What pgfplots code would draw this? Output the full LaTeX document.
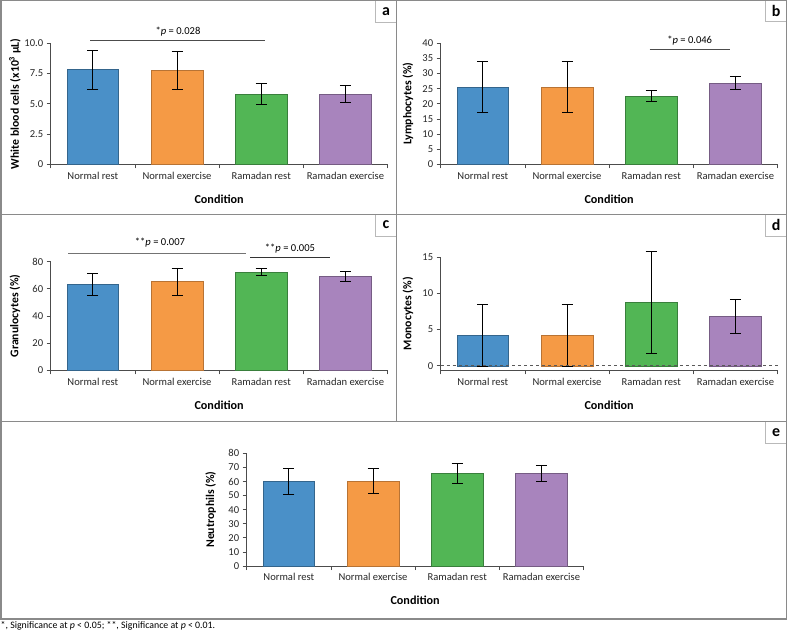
\documentclass[border=0pt]{standalone}
\usepackage{pgfplots}
\pgfplotsset{compat=1.18}
\usepackage{fontspec}
\setmainfont{Carlito}
\definecolor{cblue}{HTML}{4A90C8}
\definecolor{corange}{HTML}{F59A45}
\definecolor{cgreen}{HTML}{52B655}
\definecolor{cpurple}{HTML}{A884BD}
\definecolor{framec}{HTML}{8A8A8A}

\pgfplotsset{
  panel/.style={
    scale only axis, anchor=south west,
    width=336.8bp,
    xmin=-0.5, xmax=3.5,
    ybar, bar width=51.7bp, bar shift=0pt,
    axis x line*=bottom, axis y line*=left,
    axis line style={black!70, line width=0.8bp, -},
    tick align=outside, major tick length=4bp,
    tick style={black!70, line width=0.8bp},
    xtick={-0.5,0.5,1.5,2.5,3.5},
    x tick label as interval,
    xticklabels={Normal rest, Normal exercise, Ramadan rest, Ramadan exercise},
    tick label style={font=\fontsize{10.6}{12}\selectfont, black!85},
    /pgf/number format/assume math mode=true,
    xlabel={Condition},
    xlabel style={font=\fontsize{12.2}{14}\selectfont\bfseries, at={(axis description cs:0.5,0)}, anchor=center, yshift=-34.7bp},
    ylabel style={font=\fontsize{11.8}{13}\selectfont\bfseries, anchor=center},
    error bars/y dir=both, error bars/y explicit,
    error bars/error bar style={black, line width=0.8bp},
    error bars/error mark options={black, line width=0.8bp, mark size=5.5bp, rotate=90},
    clip=false,
  },
  ylabpos/.style={ylabel style={at={(axis description cs:#1,0.5)}}},
  bblue/.style={fill=cblue, draw=cblue!70!black},
  borange/.style={fill=corange, draw=corange!75!black},
  bgreen/.style={fill=cgreen, draw=cgreen!70!black},
  bpurple/.style={fill=cpurple, draw=cpurple!70!black},
}

\begin{document}
\begin{tikzpicture}
\path[use as bounding box] (0,0) rectangle (788bp,-636bp);

% label boxes and frame
\begin{scope}[x=1bp,y=-1bp]
\draw[gray!55, line width=0.7bp, fill=white] (375.3,0.6) rectangle (396.7,22.7);
\draw[gray!55, line width=0.7bp, fill=white] (765.5,0.6) rectangle (786.7,21.7);
\draw[gray!55, line width=0.7bp, fill=white] (375.3,214.3) rectangle (396.7,236);
\draw[gray!55, line width=0.7bp, fill=white] (765.5,214.3) rectangle (786.7,236);
\draw[gray!55, line width=0.7bp, fill=white] (765.5,421.3) rectangle (786.7,443.3);
\node[font=\fontsize{16}{18}\selectfont\bfseries] at (386,11.6) {a};
\node[font=\fontsize{16}{18}\selectfont\bfseries] at (776.1,11.1) {b};
\node[font=\fontsize{16}{18}\selectfont\bfseries] at (386,225.1) {c};
\node[font=\fontsize{16}{18}\selectfont\bfseries] at (776.1,225.1) {d};
\node[font=\fontsize{16}{18}\selectfont\bfseries] at (776.1,432.3) {e};
\draw[framec, line width=1.2bp] (1,0.6) rectangle (786.7,619);
\draw[framec, line width=1.2bp] (396.7,0.6) -- (396.7,421.3);
\draw[framec, line width=1.2bp] (1,214.3) -- (786.7,214.3);
\draw[framec, line width=1.2bp] (1,421.3) -- (786.7,421.3);
% significance annotations
\draw[black!70, line width=0.9bp] (90,40) -- (265,40);
\node[font=\fontsize{10.6}{12}\selectfont] at (178,31.7) {*\textit{p} = 0.028};
\draw[black!70, line width=0.9bp] (649.7,49.3) -- (730.3,49.3);
\node[font=\fontsize{10.6}{12}\selectfont] at (689.7,40.7) {*\textit{p} = 0.046};
\draw[black!55, line width=0.9bp] (68.3,253.3) -- (246,253.3);
\node[font=\fontsize{10.6}{12}\selectfont] at (160,242.3) {**\textit{p} = 0.007};
\draw[black!80, line width=0.9bp] (250,257.3) -- (330,257.3);
\node[font=\fontsize{10.6}{12}\selectfont] at (290,249) {**\textit{p} = 0.005};
\node[font=\fontsize{9.9}{11}\selectfont, anchor=base west, inner sep=0pt] at (0.5,628) {*, Significance at \textit{p} < 0.05; **, Significance at \textit{p} < 0.01.};
\end{scope}

% panel a
\begin{axis}[panel, at={(50.7bp,-164.3bp)}, height=121bp, ymin=0, ymax=10,
  ytick={0,2.5,5,7.5,10}, yticklabels={0,2.5,5.0,7.5,10.0},
  ylabel={White blood cells (x10\textsuperscript{3} µL)}, ylabpos=-0.106]
\addplot[bblue] coordinates {(0,7.82) +- (0,1.62)};
\addplot[borange] coordinates {(1,7.77) +- (0,1.57)};
\addplot[bgreen] coordinates {(2,5.8) +- (0,0.87)};
\addplot[bpurple] coordinates {(3,5.8) +- (0,0.72)};
\end{axis}

% panel b
\begin{axis}[panel, at={(440.7bp,-164.3bp)}, height=121bp, ymin=0, ymax=40,
  ytick={0,5,...,40},
  ylabel={Lymphocytes (\%)}, ylabpos=-0.097]
\addplot[bblue] coordinates {(0,25.65) +- (0,8.4)};
\addplot[borange] coordinates {(1,25.6) +- (0,8.4)};
\addplot[bgreen] coordinates {(2,22.5) +- (0,1.8)};
\addplot[bpurple] coordinates {(3,26.9) +- (0,2.3)};
\end{axis}

% panel c
\begin{axis}[panel, at={(50.7bp,-370.3bp)}, height=108.6bp, ymin=0, ymax=80,
  ytick={0,20,...,80},
  ylabel={Granulocytes (\%)}, ylabpos=-0.106]
\addplot[bblue] coordinates {(0,63.3) +- (0,8)};
\addplot[borange] coordinates {(1,65.4) +- (0,10)};
\addplot[bgreen] coordinates {(2,72.4) +- (0,2.6)};
\addplot[bpurple] coordinates {(3,69.1) +- (0,3.9)};
\end{axis}

% panel d
\begin{axis}[panel, at={(440.7bp,-370.3bp)}, height=113.3bp, ymin=-0.635, ymax=15,
  ytick={0,5,10,15},
  ylabel={Monocytes (\%)}, ylabpos=-0.097]
\addplot[bblue] coordinates {(0,4.15) +- (0,4.3)};
\addplot[borange] coordinates {(1,4.15) +- (0,4.3)};
\addplot[bgreen] coordinates {(2,8.75) +- (0,7)};
\addplot[bpurple] coordinates {(3,6.85) +- (0,2.35)};
\draw[dashed, black!65, line width=0.8bp] (axis cs:-0.5,0) -- (axis cs:3.5,0);
\end{axis}

% panel e
\begin{axis}[panel, at={(246.7bp,-566bp)}, height=112.7bp, ymin=0, ymax=80,
  ytick={0,10,...,80},
  ylabel={Neutrophils (\%)}, ylabpos=-0.107]
\addplot[bblue] coordinates {(0,60.2) +- (0,9.3)};
\addplot[borange] coordinates {(1,60.1) +- (0,8.9)};
\addplot[bgreen] coordinates {(2,65.8) +- (0,7)};
\addplot[bpurple] coordinates {(3,65.8) +- (0,5.9)};
\end{axis}
\end{tikzpicture}
\end{document}
